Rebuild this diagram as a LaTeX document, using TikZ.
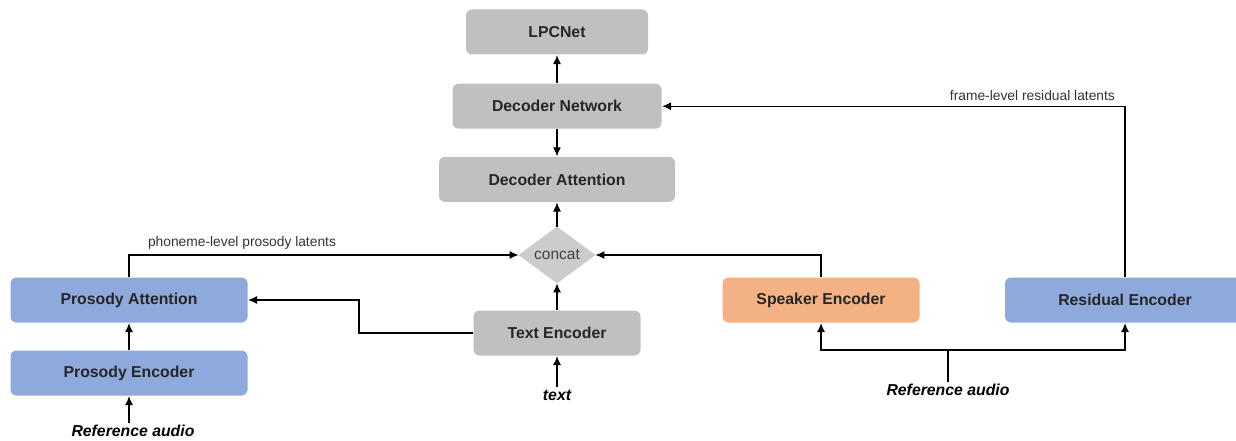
\documentclass[tikz,border=0pt]{standalone}
\usepackage{fontspec}
\setmainfont{Liberation Sans}
\usetikzlibrary{arrows.meta}
\usetikzlibrary{positioning}
\usetikzlibrary{shapes.geometric}
\definecolor{boxgray}{HTML}{C0C0C0}
\definecolor{boxblue}{HTML}{8EA9DB}
\definecolor{boxorange}{HTML}{F4B183}
\definecolor{diagray}{HTML}{CCCCCC}

\begin{document}
\begin{tikzpicture}[x=1pt, y=-1pt,
                    >={Latex[length=9pt,width=8pt]},
                    line width=1.2pt,
                    node distance=27pt,
                    blk/.style={rounded corners=6pt, minimum height=45pt, inner sep=0pt,
                                font=\fontsize{15.8}{18}\selectfont\bfseries, text=black!85},
                    gblk/.style={blk, fill=boxgray},
                    bblk/.style={blk, fill=boxblue},
                    oblk/.style={blk, fill=boxorange},
                    lbl/.style={font=\fontsize{13.8}{15}\selectfont, text=black!80},
                    inp/.style={font=\fontsize{15.8}{18}\selectfont\bfseries\itshape, inner sep=2pt}
                    ]
  \useasboundingbox (0,0) rectangle (1236,441);

  % decoder stack
  \node[gblk, minimum width=182pt] (lpc) at (557,32) {LPCNet};
  \node[gblk, minimum width=209pt] (decnet) [below=28pt of lpc] {Decoder Network};
  \node[gblk, minimum width=236pt] (decatt) [below=27pt of decnet] {Decoder Attention};
  \node[diamond, aspect=1.36, minimum width=76pt, minimum height=56pt, inner sep=0pt,
        fill=diagray, draw=black!20, line width=0.8pt,
        font=\fontsize{15.5}{18}\selectfont, text=black!75] (concat) at (557,255) {concat};
  \node[gblk, minimum width=167pt] (textenc) at (557,333) {Text Encoder};
  \node[inp] (txt) at (557,395) {text};

  % prosody branch
  \node[bblk, minimum width=237pt] (pa) at (129,300) {Prosody Attention};
  \node[bblk, minimum width=237pt] (pe) at (129,373) {Prosody Encoder};
  \node[inp] (refl) at (133,431) {Reference audio};

  % speaker and residual branch
  \node[oblk, minimum width=197pt] (se) at (821,300) {Speaker Encoder};
  \node[bblk, minimum width=240pt] (re) at (1125,300) {Residual Encoder};
  \node[inp] (refr) at (948,390) {Reference audio};
  \coordinate (split) at (948,350);

  \draw[->] (decnet) -- (lpc);
  \draw[->] (decnet) -- (decatt);
  \draw[->] (concat) -- (decatt);
  \draw[->] (textenc) -- (concat);
  \draw[->] (txt) -- (textenc);

  \draw[->] (refl.north -| pe.south) -- (pe);
  \draw[->] (pe) -- (pa);
  \draw[->] (pa.north) |- (concat.west)
        node[lbl, pos=0.645, above=2pt] {phoneme-level prosody latents};
  \draw[->] (textenc.west) -- ++(-114,0) |- (pa.east);

  \draw (refr) -- (split);
  \draw[->] (split) -| (se.south);
  \draw[->] (split) -| (re.south);
  \draw[->] (se.north) |- (concat.east);
  \draw[->] (re.north) |- (decnet.east)
        node[lbl, pos=0.60, above=2pt] {frame-level residual latents};
\end{tikzpicture}
\end{document}
